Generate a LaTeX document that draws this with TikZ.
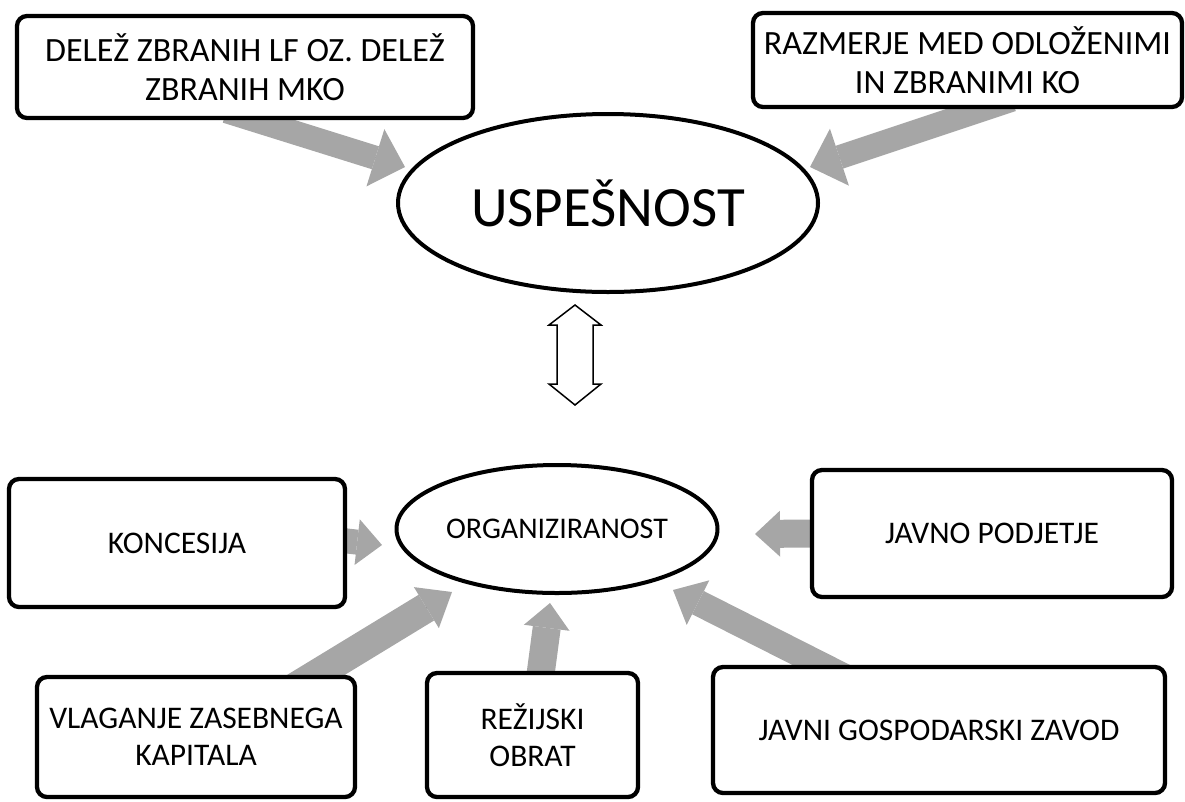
\documentclass[tikz,border=0pt]{standalone}
\usepackage{fontspec}
\setmainfont{Carlito}
\usepackage{tikz}
\usetikzlibrary{arrows.meta,positioning,calc,shapes.geometric}
\pgfdeclarelayer{background}
\pgfsetlayers{background,main}
\definecolor{arrowgray}{RGB}{166,166,166}
\tikzset{
  qbox/.style={draw,rounded corners=10pt,line width=4.3pt,fill=white,align=center,inner sep=0pt,font=\fontsize{31.5}{37}\selectfont},
  qoval/.style={ellipse,draw,line width=4pt,fill=white,inner sep=0pt},
  fatarrow/.style={color=arrowgray,line width=27pt,shorten <=-30pt,
    preaction={draw,-,shorten >=18pt},
    -{Triangle[length=25pt,width=46pt,line width=0pt]}},
  bigarrow/.style={fatarrow,line width=24pt,-{Triangle[length=31pt,width=60pt,line width=0pt]}}
}

\begin{document}
\begin{tikzpicture}[
  x=1pt,
  y=-1pt,
  linkarrow/.style={
    draw,
    fill=white,
    line width=1.5pt,
    line join=miter
  },
  bigtext/.style={font=\fontsize{34}{38.5}\selectfont}
]
\useasboundingbox (0,0) rectangle (1185,801);

  % --------------------------------------------------------------
  % Upper part: the result and what measures it.
  % --------------------------------------------------------------
  \node[qoval,minimum width=420pt,minimum height=178pt,
        font=\fontsize{57}{60}\selectfont] (nUsp) at (608,203) {USPEŠNOST};

  \node[qbox,bigtext,minimum width=456pt,minimum height=102pt] (bDelez) at (245,67)
    {DELEŽ ZBRANIH LF OZ. DELEŽ\\ZBRANIH MKO};
  \node[qbox,bigtext,minimum width=429pt,minimum height=94pt] (bRazm) at (967.5,60)
    {RAZMERJE MED ODLOŽENIMI\\IN ZBRANIMI KO};


  % --------------------------------------------------------------
  % Lower part: the forms of organisation.
  % --------------------------------------------------------------
  \node[qoval,minimum width=321pt,minimum height=128pt,
        font=\fontsize{30}{33}\selectfont] (nOrg) at (557,529) {ORGANIZIRANOST};

  \node[qbox,minimum width=336pt,minimum height=128pt] (bKonc) at (177,543) {KONCESIJA};
  \node[qbox,minimum width=360pt,minimum height=127pt] (bJavPod) at (992,533.5) {JAVNO PODJETJE};
  \node[qbox,minimum width=318pt,minimum height=120pt] (bVlag) at (196,737)
    {VLAGANJE ZASEBNEGA\\KAPITALA};
  \node[qbox,minimum width=211pt,minimum height=124pt] (bRez) at (532.5,735)
    {REŽIJSKI\\OBRAT};
  \node[qbox,minimum width=452pt,minimum height=126pt] (bJgz) at (939,730)
    {JAVNI GOSPODARSKI ZAVOD};


  % --------------------------------------------------------------
  % Where the grey arrows end, just short of the ovals.
  % --------------------------------------------------------------
  \coordinate (tUspL) at (405,167);
  \coordinate (tUspR) at (810,167);
  \coordinate (tOrgW) at (382,545);
  \coordinate (tOrgE) at (755,534);
  \coordinate (tOrgSW) at (452,592);
  \coordinate (tOrgS) at (550,603);
  \coordinate (tOrgSE) at (673,590);


  % --------------------------------------------------------------
  % Grey arrows, drawn behind the boxes.
  % --------------------------------------------------------------
  \begin{pgfonlayer}{background}
  \draw[bigarrow] ([xshift=10pt]bDelez.south) -- (tUspL);
  \draw[bigarrow] ([xshift=16pt]bRazm.south) -- (tUspR);

  \draw[fatarrow,line width=25pt] ([yshift=2pt]bKonc.east) -- (tOrgW);
  \draw[fatarrow,line width=28pt] (bJavPod.west) -- (tOrgE);
  \draw[fatarrow,line width=30pt,-{Triangle[length=30pt,width=48pt,line width=0pt]}]
    ([xshift=120pt]bVlag.north) -- (tOrgSW);
  \draw[fatarrow,line width=28pt] ([xshift=8.5pt]bRez.north) -- (tOrgS);
  \draw[fatarrow,line width=26pt,-{Triangle[length=28pt,width=50pt,line width=0pt]}]
    ([xshift=-118pt]bJgz.north) -- (tOrgSE);
  \end{pgfonlayer}


  % --------------------------------------------------------------
  % Open double arrow between the two ovals.
  % --------------------------------------------------------------
  \coordinate (link) at (575,355);
  \begin{scope}[shift={(link)}]
    \draw[linkarrow] (0,-50) -- (26,-30) -- (18,-30) -- (18,29) -- (26,29)
      -- (0,50) -- (-26,29) -- (-18,29) -- (-18,-30) -- (-26,-30) -- cycle;
  \end{scope}

\end{tikzpicture}
\end{document}
